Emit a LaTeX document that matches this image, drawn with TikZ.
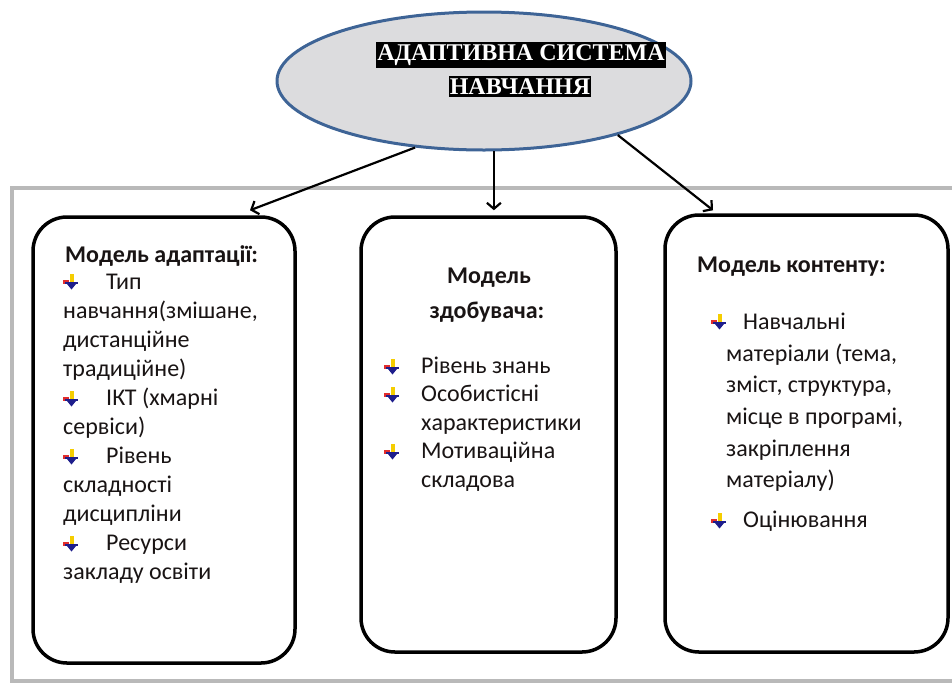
\documentclass[tikz,border=0pt]{standalone}
\usepackage{fontspec}
\setmainfont{Carlito}
\newfontfamily\titlefont{Liberation Serif}
\usetikzlibrary{shapes.geometric,arrows.meta,calc}
\definecolor{ellfill}{RGB}{220,220,222}
\definecolor{elledge}{RGB}{62,100,150}
\definecolor{framegray}{RGB}{185,185,185}
\definecolor{bly}{RGB}{245,205,0}
\definecolor{blr}{RGB}{225,45,45}
\definecolor{blb}{RGB}{30,30,140}
\definecolor{txtc}{RGB}{25,20,20}
\tikzset{
  model/.style={draw=black, line width=3.5pt, rounded corners=34pt, fill=white, inner sep=0pt},
  ttl/.style={fill=black, text=white, font=\titlefont\bfseries\fontsize{24}{27}\selectfont, inner xsep=1pt, inner ysep=2.5pt},
  txt/.style={anchor=base west, inner sep=0pt, text=txtc, font=\fontsize{24}{28}\selectfont},
  hd/.style={anchor=base west, inner sep=0pt, text=txtc, font=\bfseries\fontsize{24}{28}\selectfont},
  conn/.style={line width=2.2pt, -{Straight Barb[length=6pt,width=14pt]}},
  bul/.pic={
    \fill[bly] (-1.5,-8) rectangle (2.5,0);
    \fill[blr] (-8,-2.5) rectangle (-2,2);
    \fill[blb] (-6,0) rectangle (7,2);
    \fill[blb] (-4,2) -- (5,2) -- (0.5,7.5) -- cycle;
  }
}
\begin{document}
\begin{tikzpicture}[x=1pt,y=-1pt]
\useasboundingbox (0,0) rectangle (952,686);
% outer frame
\draw[framegray, line width=4pt] (960,188) -- (12,188) -- (12,681) -- (960,681);
% ellipse
\node[ellipse, draw=elledge, fill=ellfill, line width=3pt, minimum width=414pt, minimum height=138pt] (ell) at (484,81) {};
\node[ttl] (ttl1) at (521,55) {АДАПТИВНА СИСТЕМА};
\node[ttl] (ttl2) at (520,86.5) {НАВЧАННЯ};
% boxes
\node[model, minimum width=262pt, minimum height=446pt] (b1) at (164,440) {};
\node[model, minimum width=255pt, minimum height=435pt] (b2) at (488.5,434.5) {};
\node[model, minimum width=283pt, minimum height=437pt] (b3) at (806.5,433.5) {};
% arrows
\draw[conn] (ell.-136.7) -- ($(b1.north)+(86,-5)$);
\draw[conn] (ell.-82.5) -- ($(ell.-82.5 |- b2.north)+(0,-5)$);
\draw[conn] (ell.-22) -- ($(b3.north)+(-93.5,-3)$);
% left box text
\node[hd] (l0) at (65,262) {Модель адаптації:};
\pic (pl1) at (71,282) {bul};
\node[txt] (l1) at (106,289) {Тип};
\node[txt] (l2) at (63,318) {навчання(змішане,};
\node[txt] (l3) at (63,347) {дистанційне};
\node[txt] (l4) at (63,376) {традиційне)};
\pic (pl2) at (71,399) {bul};
\node[txt] (l5) at (106,405) {ІКТ (хмарні};
\node[txt] (l6) at (63,434) {сервіси)};
\pic (pl3) at (71,457) {bul};
\node[txt] (l7) at (106,463) {Рівень};
\node[txt] (l8) at (63,492) {складності};
\node[txt] (l9) at (63,521) {дисципліни};
\pic (pl4) at (71,544) {bul};
\node[txt] (l10) at (106,550) {Ресурси};
\node[txt] (l11) at (63,579) {закладу освіти};
% middle box text
\node[hd, anchor=base] (m0) at (489,283) {Модель};
\node[hd, anchor=base] (m1) at (487,318) {здобувача:};
\pic (pm1) at (392,367) {bul};
\node[txt] (m2) at (421,373) {Рівень знань};
\pic (pm2) at (392,395) {bul};
\node[txt] (m3) at (421,401.5) {Особистісні};
\node[txt] (m4) at (421,430) {характеристики};
\pic (pm3) at (392,452) {bul};
\node[txt] (m5) at (421,458.5) {Мотиваційна};
\node[txt] (m6) at (421,487) {складова};
% right box text
\node[hd] (r0) at (697,272) {Модель контенту:};
\pic (pr1) at (719,322) {bul};
\node[txt] (r1) at (743,329) {Навчальні};
\node[txt] (r2) at (726,361) {матеріали (тема,};
\node[txt] (r3) at (726,392) {зміст, структура,};
\node[txt] (r4) at (726,424) {місце в програмі,};
\node[txt] (r5) at (726,456) {закріплення};
\node[txt] (r6) at (726,487) {матеріалу)};
\pic (pr2) at (719,521) {bul};
\node[txt] (r7) at (743,527) {Оцінювання};
\end{tikzpicture}
\end{document}
